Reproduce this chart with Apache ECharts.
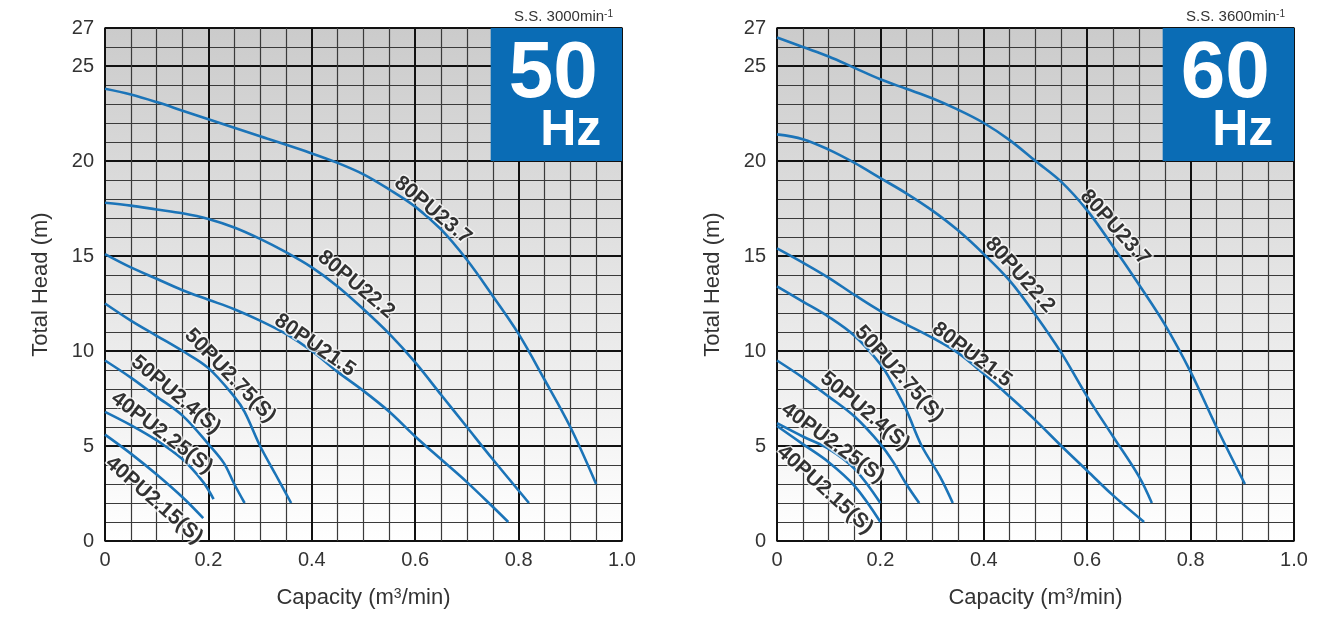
<!DOCTYPE html>
<html>
<head>
<meta charset="utf-8">
<script src="https://cdn.jsdelivr.net/npm/echarts@6/dist/echarts.min.js"></script>
<style>
  html, body { margin: 0; padding: 0; background: #fff; }
  #chart { width: 1335px; height: 627px; }
</style>
</head>
<body>
<div id="chart"></div>
<script>
// pump names, same order in both panels
const pumps = ['80PU23.7', '80PU22.2', '80PU21.5', '50PU2.75(S)', '50PU2.4(S)', '40PU2.25(S)', '40PU2.15(S)']

// 50 Hz curves: [capacity m3/min, total head m]
const hz50_80PU23_7 = [[0, 23.8], [0.05, 23.5], [0.1, 23.1], [0.15, 22.65], [0.2, 22.2], [0.3, 21.3], [0.4, 20.4], [0.45, 19.9], [0.5, 19.3], [0.55, 18.5], [0.6, 17.6], [0.65, 16.4], [0.7, 14.8], [0.75, 12.9], [0.8, 10.9], [0.85, 8.5], [0.9, 6.0], [0.95, 3.0]]
const hz50_80PU22_2 = [[0, 17.8], [0.05, 17.65], [0.1, 17.45], [0.15, 17.25], [0.2, 16.95], [0.25, 16.5], [0.3, 15.9], [0.35, 15.2], [0.4, 14.4], [0.45, 13.4], [0.5, 12.2], [0.55, 10.9], [0.6, 9.4], [0.65, 7.7], [0.7, 6.0], [0.75, 4.3], [0.82, 2.0]]
const hz50_80PU21_5 = [[0, 15.1], [0.05, 14.4], [0.1, 13.8], [0.15, 13.2], [0.2, 12.7], [0.25, 12.2], [0.3, 11.6], [0.35, 10.9], [0.4, 10.0], [0.45, 8.9], [0.5, 7.9], [0.55, 6.8], [0.6, 5.5], [0.65, 4.3], [0.7, 3.1], [0.75, 1.8], [0.78, 1.0]]
const hz50_50PU2_75 = [[0, 12.5], [0.05, 11.6], [0.1, 10.8], [0.15, 10.0], [0.2, 9.1], [0.25, 7.6], [0.27, 6.8], [0.3, 5.0], [0.33, 3.5], [0.36, 2.0]]
const hz50_50PU2_4 = [[0, 9.5], [0.05, 8.6], [0.1, 7.6], [0.15, 6.6], [0.2, 5.1], [0.23, 4.1], [0.25, 3.0], [0.27, 2.0]]
const hz50_40PU2_25 = [[0, 6.8], [0.05, 6.1], [0.1, 5.3], [0.15, 4.3], [0.19, 3.1], [0.21, 2.2]]
const hz50_40PU2_15 = [[0, 5.6], [0.05, 4.6], [0.1, 3.5], [0.15, 2.3], [0.19, 1.2]]

// 60 Hz curves
const hz60_80PU23_7 = [[0, 26.5], [0.05, 26.0], [0.1, 25.5], [0.15, 24.9], [0.2, 24.3], [0.25, 23.8], [0.3, 23.3], [0.35, 22.7], [0.4, 22.0], [0.45, 21.1], [0.5, 20.0], [0.55, 18.9], [0.6, 17.4], [0.65, 15.5], [0.7, 13.5], [0.75, 11.4], [0.8, 8.9], [0.85, 6.0], [0.905, 3.0]]
const hz60_80PU22_2 = [[0, 21.4], [0.05, 21.15], [0.1, 20.6], [0.15, 19.9], [0.2, 19.1], [0.25, 18.3], [0.3, 17.4], [0.35, 16.35], [0.4, 15.1], [0.45, 13.7], [0.5, 11.9], [0.55, 9.9], [0.6, 7.6], [0.65, 5.5], [0.7, 3.4], [0.725, 2.0]]
const hz60_80PU21_5 = [[0, 15.4], [0.05, 14.65], [0.1, 13.85], [0.15, 12.95], [0.2, 12.1], [0.25, 11.4], [0.3, 10.7], [0.35, 9.9], [0.4, 8.8], [0.45, 7.6], [0.5, 6.35], [0.55, 5.0], [0.6, 3.7], [0.65, 2.4], [0.71, 1.0]]
const hz60_50PU2_75 = [[0, 13.4], [0.05, 12.6], [0.1, 11.8], [0.15, 10.8], [0.2, 9.3], [0.225, 8.2], [0.25, 6.9], [0.28, 5.0], [0.315, 3.4], [0.34, 2.0]]
const hz60_50PU2_4 = [[0, 9.5], [0.05, 8.6], [0.1, 7.6], [0.15, 6.55], [0.2, 5.1], [0.225, 4.15], [0.25, 3.0], [0.275, 2.0]]
const hz60_40PU2_25 = [[0, 6.2], [0.05, 5.5], [0.1, 4.85], [0.15, 3.8], [0.2, 2.0]]
const hz60_40PU2_15 = [[0, 6.05], [0.05, 5.1], [0.1, 4.15], [0.15, 2.9], [0.2, 1.0]]

// where the curve names sit (data coords) and their tilt
const hz50LabelAt = [[0.634, 17.4], [0.486, 13.5], [0.406, 10.3], [0.242, 8.7], [0.137, 7.7], [0.110, 5.7], [0.095, 2.15]]
const hz60LabelAt = [[0.654, 16.5], [0.470, 14.0], [0.377, 9.8], [0.236, 8.8], [0.170, 6.84], [0.108, 5.16], [0.093, 2.7]]
const hz50LabelTilt = [-40, -40, -35, -46, -40, -37, -41]
const hz60LabelTilt = [-48, -48, -37, -48, -40, -36, -42]

const speeds = ['3000', '3600']
const freqs = ['50', '60']

const font = 'Liberation Sans'
const chart = echarts.init(document.getElementById('chart'))

function buildSeries(idx, curves, labelAt, labelTilt) {
  const list = curves.map((c, i) => ({
    name: pumps[i],
    type: 'line',
    xAxisIndex: idx,
    yAxisIndex: idx * 2,
    data: c,
    smooth: 0.35,
    symbol: 'none',
    silent: true,
    z: 3,
    lineStyle: { color: '#1b74b8', width: 2.6 }
  }))
  list.push({
    type: 'scatter',
    xAxisIndex: idx,
    yAxisIndex: idx * 2,
    symbolSize: 1,
    silent: true,
    z: 5,
    itemStyle: { color: 'rgba(0,0,0,0)' },
    data: labelAt.map((p, i) => ({ name: pumps[i], value: p, label: { rotate: labelTilt[i] } })),
    label: {
      show: true,
      position: 'inside',
      formatter: '{b}',
      fontFamily: font,
      fontSize: 21,
      fontWeight: 'bold',
      color: '#000',
      textBorderColor: 'rgba(255,255,255,0.9)',
      textBorderWidth: 3
    },
    markArea: {
      silent: true,
      itemStyle: { color: '#0a6cb5' },
      data: [[{ coord: [0.746, 27] }, { coord: [1, 20] }]]
    },
    markPoint: {
      silent: true,
      symbol: 'circle',
      symbolSize: 1,
      itemStyle: { color: 'rgba(0,0,0,0)' },
      label: {
        show: true,
        position: 'inside',
        formatter: '{b}',
        color: '#fff',
        fontFamily: font,
        fontWeight: 'bold'
      },
      data: [
        { name: freqs[idx], coord: [0.867, 24.53], label: { fontSize: 80 } },
        { name: 'Hz', coord: [0.901, 21.55], label: { fontSize: 50 } }
      ]
    }
  })
  return list
}

function xAxisOf(idx) {
  return {
    gridIndex: idx,
    type: 'value',
    min: 0,
    max: 1,
    interval: 0.2,
    name: 'Capacity (m{sup|3}/min)',
    nameLocation: 'middle',
    nameGap: 46,
    nameTextStyle: {
      fontFamily: font, fontSize: 22, color: '#333',
      rich: { sup: { fontFamily: font, fontSize: 14, color: '#333', verticalAlign: 'top' } }
    },
    axisLine: { show: false },
    axisTick: { show: false },
    axisLabel: {
      fontFamily: font, fontSize: 20, color: '#333', margin: 9,
      formatter: v => (v === 0 ? '0' : v.toFixed(1))
    },
    splitLine: { show: true, lineStyle: { color: '#111', width: 2 } },
    minorTick: { show: false, splitNumber: 4 },
    minorSplitLine: { show: true, lineStyle: { color: '#3a3a3a', width: 1.2 } }
  }
}

function yAxesOf(idx) {
  return [
    {
      gridIndex: idx,
      type: 'value',
      min: 0,
      max: 27,
      interval: 1,
      name: 'Total Head (m)',
      nameLocation: 'middle',
      nameGap: 53,
      nameTextStyle: { fontFamily: font, fontSize: 22, color: '#333' },
      axisLine: { show: false },
      axisTick: { show: false },
      axisLabel: {
        fontFamily: font, fontSize: 20, color: '#333', margin: 11, interval: 0,
        formatter: v => (v % 5 === 0 || v === 27 ? String(v) : '')
      },
      splitLine: { show: true, lineStyle: { color: '#3a3a3a', width: 1.2 } }
    },
    {
      gridIndex: idx,
      type: 'value',
      position: 'left',
      min: 0,
      max: 27,
      interval: 5,
      axisLine: { show: false },
      axisTick: { show: false },
      axisLabel: { show: false },
      splitLine: { show: true, lineStyle: { color: '#111', width: 2 } }
    }
  ]
}

const plotBg = new echarts.graphic.LinearGradient(0, 0, 0, 1, [
  { offset: 0, color: '#cbcbcb' },
  { offset: 1, color: '#ffffff' }
])

chart.setOption({
  animation: false,
  backgroundColor: '#fff',
  title: speeds.map((s, i) => ({
    text: 'S.S. ' + s + 'min{sup|-1}',
    right: i === 0 ? 717 : 45,
    top: 4,
    textStyle: {
      fontFamily: font, fontSize: 15, fontWeight: 'normal', color: '#333',
      rich: { sup: { fontFamily: font, fontSize: 10, color: '#333', verticalAlign: 'top' } }
    }
  })),
  grid: [
    { left: 105, top: 28, width: 517, height: 513, show: true, backgroundColor: plotBg, borderColor: '#333', borderWidth: 1.5 },
    { left: 777, top: 28, width: 517, height: 513, show: true, backgroundColor: plotBg, borderColor: '#333', borderWidth: 1.5 }
  ],
  xAxis: [xAxisOf(0), xAxisOf(1)],
  yAxis: [...yAxesOf(0), ...yAxesOf(1)],
  series: [
    ...buildSeries(0, [hz50_80PU23_7, hz50_80PU22_2, hz50_80PU21_5, hz50_50PU2_75, hz50_50PU2_4, hz50_40PU2_25, hz50_40PU2_15], hz50LabelAt, hz50LabelTilt),
    ...buildSeries(1, [hz60_80PU23_7, hz60_80PU22_2, hz60_80PU21_5, hz60_50PU2_75, hz60_50PU2_4, hz60_40PU2_25, hz60_40PU2_15], hz60LabelAt, hz60LabelTilt)
  ]
})
</script>
</body>
</html>
